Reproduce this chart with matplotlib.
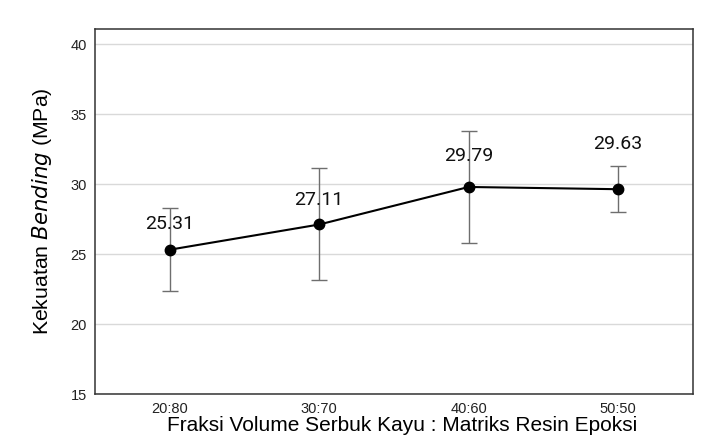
import matplotlib
matplotlib.use("Agg")
import matplotlib.pyplot as plt

categories = ["20:80", "30:70", "40:60", "50:50"]
values = [25.31, 27.11, 29.79, 29.63]
errors = [2.98, 4.0, 4.0, 1.64]
value_labels = ["25.31", "27.11", "29.79", "29.63"]
yticks = [15, 20, 25, 30, 35, 40]

label_offsets_px = [17, 15, 22, 36]

fig = plt.figure(figsize=(7.15, 4.36), dpi=100)
ax = fig.add_axes([0.133, 0.0963, 0.836, 0.838])

x = list(range(len(categories)))
ax.errorbar(x, values, yerr=errors, fmt="none", ecolor="#6e6e6e", elinewidth=1.0,
            capsize=5.5, capthick=1.0, zorder=2)
ax.plot(x, values, color="black", lw=1.5, marker="o", markersize=7.5, zorder=3)

for xi, v, lab, off in zip(x, values, value_labels, label_offsets_px):
    ax.annotate(lab, (xi, v), xytext=(0, off * 0.72), textcoords="offset points",
                ha="center", va="bottom", fontsize=14, family="Roboto", color="#111111", zorder=4)

ax.set_xlim(-0.5, 3.5)
ax.set_ylim(15, 41.1)
ax.set_yticks(yticks)
ax.set_xticks(x)
ax.set_xticklabels(categories)
ax.tick_params(axis="both", length=0, labelsize=10.5, colors="#222222", pad=6)
for lbl in ax.get_xticklabels() + ax.get_yticklabels():
    lbl.set_family("Liberation Sans")
ax.grid(axis="y", color="#d9d9d9", lw=1)
ax.set_axisbelow(True)
for s in ax.spines.values():
    s.set_color("#333333")
    s.set_linewidth(1.1)

ax.set_ylabel("Kekuatan $\\it{Bending}$ (MPa)", fontsize=15.3, family="Liberation Sans", labelpad=12)
fig.text(0.233, 0.002, "Fraksi Volume Serbuk Kayu : Matriks Resin Epoksi",
         fontsize=15, family="Liberation Sans", ha="left", va="bottom")
fig.savefig("out.png", dpi=100)
